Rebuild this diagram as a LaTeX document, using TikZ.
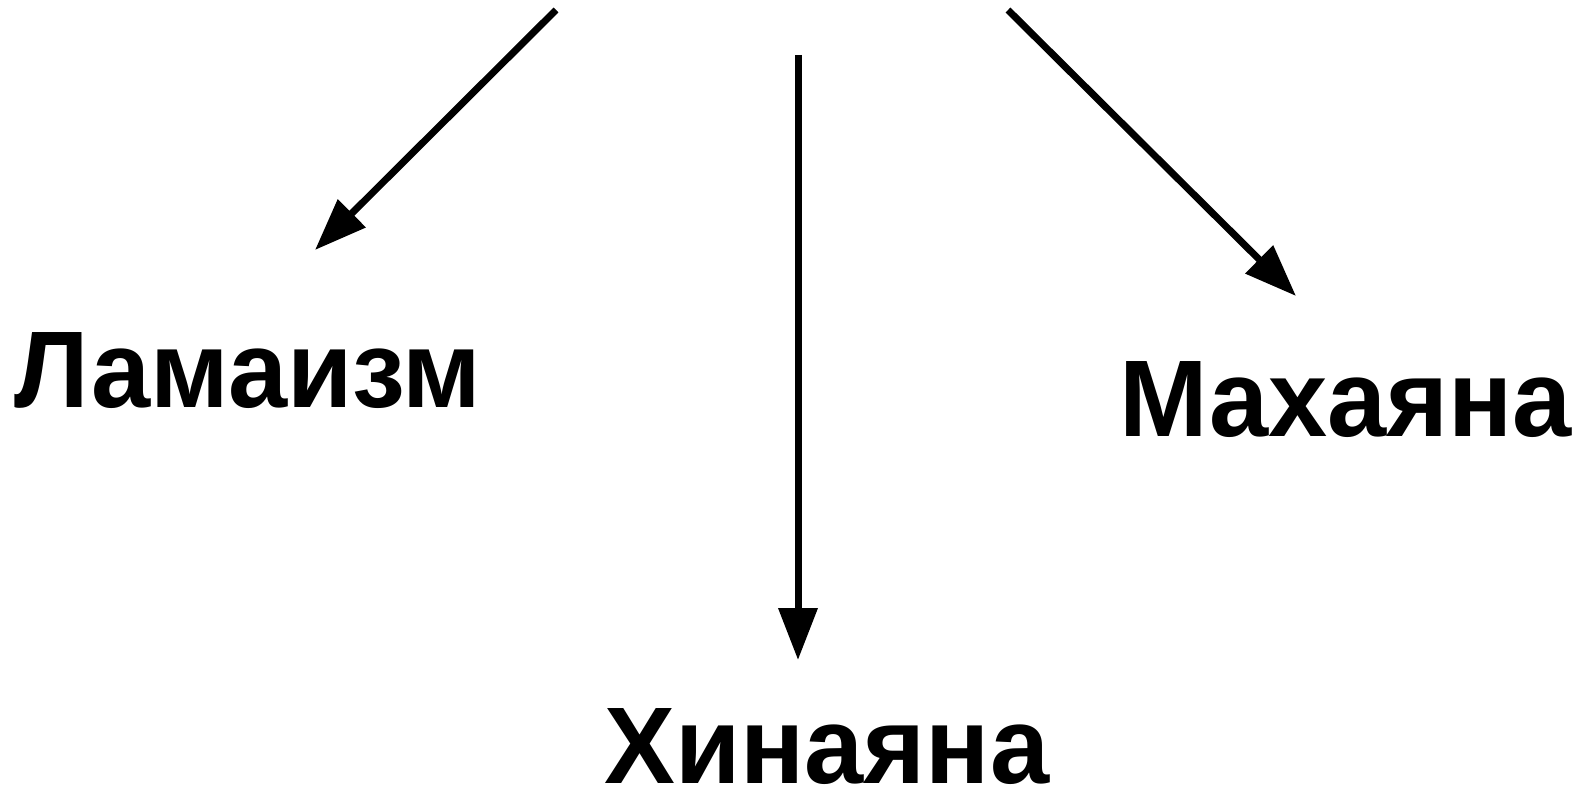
\documentclass[tikz,border=0pt]{standalone}
\usepackage{fontspec}
\setmainfont{Liberation Sans}
\usetikzlibrary{arrows.meta}
\newcommand{\narrowtxt}[1]{\scalebox{0.975}[1]{#1}}
\begin{document}
\begin{tikzpicture}[x=0.5pt,y=-0.5pt,
  lbl/.style={font=\bfseries\fontsize{54.5pt}{60pt}\selectfont,inner sep=0pt,text depth=0pt,anchor=base west},
  arr/.style={line width=3.5pt,-{Triangle[length=26pt,width=19pt]}}]
\useasboundingbox (0,0) rectangle (1581,791);
\node[lbl] (lam) at (14,408) {\narrowtxt{Ламаизм}};
\node[lbl] (mah) at (1119,437) {\narrowtxt{Махаяна}};
\node[lbl] (hin) at (604,783) {\narrowtxt{Хинаяна}};
\coordinate (s1) at (556,10);
\coordinate (e1) at (315,250);
\coordinate (s2) at (798,55);
\coordinate (e2) at (798,660);
\coordinate (s3) at (1008,10);
\coordinate (e3) at (1296,296);
\draw[arr] (s1) -- (e1);
\draw[arr] (s2) -- (e2);
\draw[arr] (s3) -- (e3);
\end{tikzpicture}
\end{document}
